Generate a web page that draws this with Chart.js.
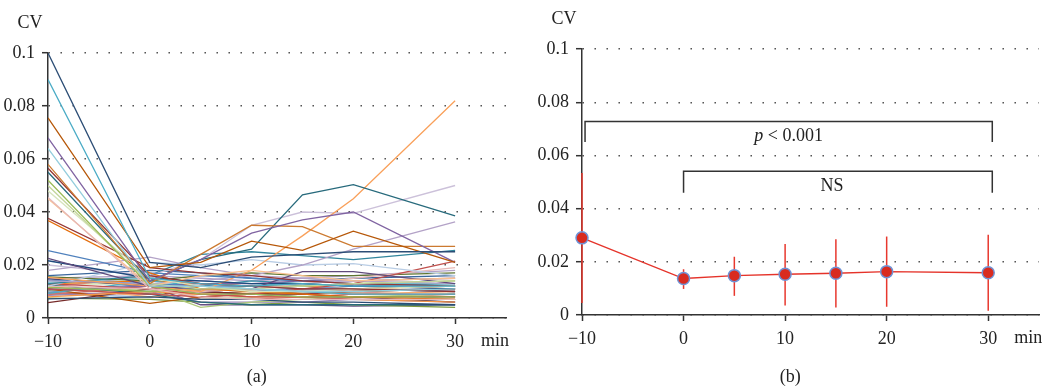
<!DOCTYPE html>
<html>
<head>
<meta charset="UTF-8">
<title>CV over time</title>
<script src="https://cdn.jsdelivr.net/npm/chart.js"></script>
<style>
  body { margin: 0; background: #fff; }
  .wrap { position: relative; width: 1049px; height: 388px; }
  #cvSubjects { position: absolute; left: 0; top: 0; }
  #cvMean { position: absolute; left: 524px; top: 0; }
</style>
</head>
<body>
<div class="wrap">
  <canvas id="cvSubjects" width="524" height="388"></canvas>
  <canvas id="cvMean" width="525" height="388"></canvas>
</div>
<script>
// time points (min) and axis ticks
const minutes = [-10, 0, 5, 10, 15, 20, 30];
const xTicks = [-10, 0, 10, 20, 30];
const yTicks = [0, 0.02, 0.04, 0.06, 0.08, 0.1];

// (a) CV of each subject at each time point
const subjectCV = [
  [0.100, 0.021, 0.019, 0.023, 0.024, 0.025, 0.025],
  [0.090, 0.015, 0.013, 0.012, 0.013, 0.012, 0.012],
  [0.0755, 0.019, 0.021, 0.029, 0.0255, 0.0328, 0.021],
  [0.068, 0.014, 0.022, 0.032, 0.037, 0.040, 0.021],
  [0.064, 0.012, 0.012, 0.011, 0.010, 0.010, 0.011],
  [0.058, 0.013, 0.024, 0.035, 0.0345, 0.027, 0.027],
  [0.0565, 0.016, 0.013, 0.012, 0.011, 0.011, 0.010],
  [0.055, 0.014, 0.022, 0.026, 0.0465, 0.0503, 0.0385],
  [0.052, 0.012, 0.009, 0.009, 0.008, 0.008, 0.008],
  [0.050, 0.013, 0.011, 0.011, 0.012, 0.013, 0.014],
  [0.048, 0.015, 0.012, 0.010, 0.010, 0.011, 0.012],
  [0.0455, 0.011, 0.008, 0.007, 0.007, 0.007, 0.007],
  [0.045, 0.012, 0.016, 0.018, 0.016, 0.014, 0.015],
  [0.0376, 0.019, 0.017, 0.016, 0.014, 0.013, 0.012],
  [0.0368, 0.017, 0.011, 0.010, 0.009, 0.008, 0.007],
  [0.0254, 0.017, 0.016, 0.015, 0.014, 0.013, 0.012],
  [0.0225, 0.012, 0.011, 0.011, 0.0175, 0.0175, 0.013],
  [0.0216, 0.015, 0.014, 0.013, 0.013, 0.012, 0.011],
  [0.018, 0.023, 0.019, 0.016, 0.015, 0.014, 0.013],
  [0.0153, 0.012, 0.010, 0.018, 0.031, 0.045, 0.082],
  [0.020, 0.016, 0.022, 0.035, 0.040, 0.0395, 0.050],
  [0.014, 0.013, 0.014, 0.016, 0.020, 0.026, 0.0363],
  [0.013, 0.016, 0.024, 0.025, 0.0235, 0.022, 0.0255],
  [0.012, 0.021, 0.020, 0.022, 0.020, 0.0205, 0.016],
  [0.011, 0.009, 0.008, 0.009, 0.011, 0.013, 0.0215],
  [0.012, 0.011, 0.010, 0.011, 0.013, 0.015, 0.019],
  [0.0143, 0.013, 0.012, 0.012, 0.011, 0.011, 0.010],
  [0.013, 0.011, 0.009, 0.008, 0.008, 0.007, 0.007],
  [0.0116, 0.010, 0.011, 0.012, 0.012, 0.013, 0.014],
  [0.0106, 0.012, 0.013, 0.013, 0.014, 0.014, 0.015],
  [0.0093, 0.014, 0.012, 0.011, 0.010, 0.009, 0.009],
  [0.008, 0.010, 0.009, 0.008, 0.008, 0.007, 0.006],
  [0.0072, 0.008, 0.007, 0.007, 0.006, 0.006, 0.005],
  [0.0058, 0.011, 0.010, 0.009, 0.009, 0.008, 0.008],
  [0.0155, 0.014, 0.016, 0.017, 0.016, 0.016, 0.017],
  [0.0148, 0.012, 0.010, 0.009, 0.008, 0.008, 0.006],
  [0.0125, 0.009, 0.006, 0.005, 0.005, 0.005, 0.005],
  [0.011, 0.0055, 0.008, 0.009, 0.010, 0.010, 0.011],
  [0.0098, 0.013, 0.011, 0.010, 0.011, 0.012, 0.012],
  [0.0088, 0.012, 0.007, 0.007, 0.008, 0.009, 0.009],
  [0.0102, 0.011, 0.004, 0.006, 0.007, 0.008, 0.009],
  [0.0085, 0.010, 0.006, 0.006, 0.006, 0.007, 0.006],
  [0.0135, 0.015, 0.014, 0.013, 0.012, 0.013, 0.013],
  [0.012, 0.008, 0.009, 0.010, 0.010, 0.009, 0.010],
  [0.016, 0.018, 0.017, 0.015, 0.014, 0.015, 0.016],
  [0.0095, 0.009, 0.010, 0.011, 0.009, 0.010, 0.011],
  [0.0075, 0.007, 0.006, 0.005, 0.006, 0.005, 0.004],
  [0.0105, 0.012, 0.005, 0.005, 0.005, 0.0045, 0.005],
  [0.011, 0.010, 0.012, 0.014, 0.013, 0.012, 0.013],
  [0.013, 0.014, 0.013, 0.012, 0.012, 0.011, 0.012],
  [0.009, 0.008, 0.009, 0.009, 0.010, 0.011, 0.010],
  [0.0115, 0.016, 0.013, 0.012, 0.011, 0.010, 0.008],
  [0.0128, 0.013, 0.007, 0.008, 0.009, 0.010, 0.007],
  [0.015, 0.016, 0.015, 0.014, 0.015, 0.016, 0.018]
];

// (b) mean CV with error range
const meanCV = [0.029, 0.0137, 0.0148, 0.0153, 0.0157, 0.0163, 0.0159];
const cvLow  = [0.0045, 0.0098, 0.0072, 0.0036, 0.0028, 0.0031, 0.0016];
const cvHigh = [0.0534, 0.0172, 0.0219, 0.0267, 0.0285, 0.0295, 0.0302];

// significance brackets in (b)
const bracketFrom = [-9.7, 0];
const bracketTo = [30.4, 30.4];
const bracketTop = [0.0727, 0.054];
const bracketFoot = [0.065, 0.046];
const bracketText = ['p < 0.001', 'NS'];

const lineColors = [
  '#2C4D75', '#4BACC6', '#B65708', '#8064A2', '#93CDDD', '#CC7A30', '#943634',
  '#276A7C', '#9BBB59', '#C3D69B', '#D7E4BD', '#E6B9B8', '#FAC090', '#953735',
  '#E46C0A', '#4F81BD', '#604A7B', '#1F497D', '#B3A2C7', '#F9A05A', '#CCC1DA',
  '#B3A2C7', '#31859C', '#B9CDE5', '#C0504D', '#E6B9B8',
  '#4F81BD', '#C0504D', '#9BBB59', '#8064A2', '#4BACC6', '#F79646',
  '#2C4D75', '#772C2A', '#5F7530', '#4D3B62', '#276A7C', '#B65708',
  '#729ACA', '#CD7371', '#AFC97A', '#9983B5', '#6FBDD1', '#F9AB6B',
  '#3A679C', '#9F3B38', '#7E9C40', '#664F83', '#358EA6', '#F3740B',
  '#95B3D7', '#D99694', '#C3D69B', '#B2A1C7'
];

const FONT = 'Liberation Serif';
const FSIZE = 18;
const INK = '#222';

function axisConfig(yWidth, xHeight) {
  return {
    x: {
      type: 'linear', min: -10, max: 35, offset: false,
      afterBuildTicks: s => { s.ticks = xTicks.map(v => ({ value: v })); },
      afterFit: s => { s.height = xHeight; },
      border: { color: '#333', width: 1.5 },
      grid: { drawOnChartArea: false, tickLength: 6, tickColor: '#333', tickWidth: 1.5 },
      ticks: {
        color: INK, padding: 7, maxRotation: 0,
        font: { family: FONT, size: FSIZE },
        callback: v => String(v).replace('-', '\u2212')
      }
    },
    y: {
      min: 0, max: 0.1,
      afterBuildTicks: s => { s.ticks = yTicks.map(v => ({ value: v })); },
      afterFit: s => { s.width = yWidth; },
      border: { color: '#333', width: 1.5, dash: [1.4, 10.6] },
      grid: {
        color: '#444', lineWidth: 1.4,
        tickLength: 6, tickColor: '#333', tickWidth: 1.5, tickBorderDash: []
      },
      ticks: {
        color: INK, padding: 7,
        font: { family: FONT, size: FSIZE },
        callback: v => v === 0 ? '0' : String(+v.toFixed(2))
      }
    }
  };
}

function labelsPlugin(tag) {
  return {
    id: 'labels' + tag,
    afterDraw(chart) {
      const { ctx, chartArea, scales } = chart;
      ctx.save();
      ctx.fillStyle = INK;
      ctx.font = FSIZE + 'px "' + FONT + '"';
      ctx.textBaseline = 'middle';
      ctx.textAlign = 'center';
      ctx.fillText('CV', chartArea.left - 18, chartArea.top - 30);
      ctx.textAlign = 'left';
      ctx.fillText('min', scales.x.getPixelForValue(30) + 26, chartArea.bottom + 23);
      ctx.textAlign = 'center';
      ctx.fillText('(' + tag + ')', scales.x.getPixelForValue(10.5), 377);
      ctx.restore();
    }
  };
}

// (a) individual subjects
new Chart('cvSubjects', {
  type: 'line',
  data: {
    datasets: subjectCV.map((vals, i) => ({
      data: vals.map((v, j) => ({ x: minutes[j], y: v })),
      borderColor: lineColors[i % lineColors.length],
      borderWidth: 1.3,
      pointRadius: 0,
      tension: 0
    }))
  },
  options: {
    responsive: false,
    animation: false,
    layout: { padding: { left: 0, right: 18, top: 53, bottom: 0 } },
    plugins: { legend: { display: false }, tooltip: { enabled: false } },
    scales: axisConfig(48, 70)
  },
  plugins: [labelsPlugin('a')]
});

// (b) mean with error bars and brackets
const errorSets = minutes.map((m, i) => ({
  data: [{ x: m, y: cvLow[i] }, { x: m, y: cvHigh[i] }],
  borderColor: '#E8382E',
  borderWidth: 1.5,
  pointRadius: 0,
  clip: false,
  order: 3
}));
const bracketSets = bracketFrom.map((f, i) => ({
  data: [
    { x: f, y: bracketFoot[i] }, { x: f, y: bracketTop[i] },
    { x: bracketTo[i], y: bracketTop[i] }, { x: bracketTo[i], y: bracketFoot[i] }
  ],
  borderColor: '#333',
  borderWidth: 1.5,
  pointRadius: 0,
  order: 2
}));

const bracketLabels = {
  id: 'bracketLabels',
  afterDatasetsDraw(chart) {
    const { ctx, scales } = chart;
    const normal = FSIZE + 'px "' + FONT + '"';
    const italic = 'italic ' + normal;
    ctx.save();
    ctx.fillStyle = INK;
    ctx.textBaseline = 'middle';
    bracketText.forEach((t, i) => {
      const cx = scales.x.getPixelForValue((bracketFrom[i] + bracketTo[i]) / 2);
      const cy = scales.y.getPixelForValue(bracketTop[i]) + 15;
      if (t.startsWith('p')) {
        ctx.font = italic;
        const wp = ctx.measureText('p').width;
        ctx.font = normal;
        const rest = t.slice(1);
        const wr = ctx.measureText(rest).width;
        const x0 = cx - (wp + wr) / 2;
        ctx.textAlign = 'left';
        ctx.font = italic;
        ctx.fillText('p', x0, cy);
        ctx.font = normal;
        ctx.fillText(rest, x0 + wp, cy);
      } else {
        ctx.font = normal;
        ctx.textAlign = 'center';
        ctx.fillText(t, cx - 6, cy);
      }
    });
    ctx.restore();
  }
};

new Chart('cvMean', {
  type: 'line',
  data: {
    datasets: [
      {
        data: meanCV.map((v, j) => ({ x: minutes[j], y: v })),
        borderColor: '#E5332A',
        borderWidth: 1.4,
        pointRadius: 6,
        pointBackgroundColor: '#D92B1F',
        pointBorderColor: '#6F93D6',
        pointBorderWidth: 1.5,
        clip: false,
        order: 1
      },
      ...errorSets,
      ...bracketSets
    ]
  },
  options: {
    responsive: false,
    animation: false,
    layout: { padding: { left: 0, right: 10, top: 49, bottom: 0 } },
    plugins: { legend: { display: false }, tooltip: { enabled: false } },
    scales: axisConfig(58, 73)
  },
  plugins: [labelsPlugin('b'), bracketLabels]
});
</script>
</body>
</html>
